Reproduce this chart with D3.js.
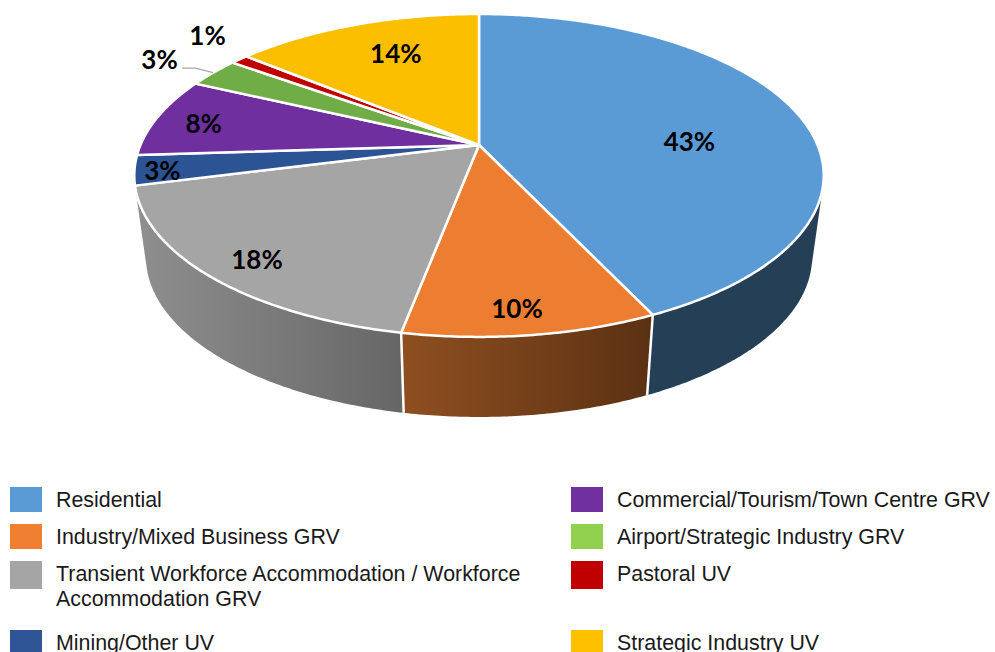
<!DOCTYPE html>
<html>
<head>
<meta charset="utf-8">
<script src="https://cdn.jsdelivr.net/npm/d3@7"></script>
<style>
  html, body { margin: 0; padding: 0; background: #fff; overflow: hidden; }
  .label { font-family: Lato, sans-serif; font-weight: 700; font-size: 26px; fill: #000; text-anchor: middle; }
  .legend { font-family: "Liberation Sans", Arial, sans-serif; font-size: 21.4px; fill: #1a1a1a; }
</style>
</head>
<body>
<div id="chart"></div>
<script>
const categories = ["Residential", "Industry/Mixed Business GRV", "Transient Workforce Accommodation / Workforce Accommodation GRV",
  "Mining/Other UV", "Commercial/Tourism/Town Centre GRV", "Airport/Strategic Industry GRV", "Pastoral UV", "Strategic Industry UV"];
const shares = [43, 10, 18, 3, 8, 3, 1, 14];
const topColors = ["#5b9bd5", "#ed7d31", "#a5a5a5", "#2c5494", "#6f2f9f", "#70ad47", "#c00000", "#fcbf00"];
const legendColors = ["#5b9bd5", "#f07f31", "#a5a5a5", "#2f5597", "#7030a0", "#92d050", "#c00000", "#ffc000"];
// wall shading, left and right end of each visible wall
const wallColors = [["#243f56", "#243f56"], ["#8f4f20", "#5b3113"], ["#8f8f8f", "#666666"]];

const width = 995, height = 652;

const svg = d3.select("#chart").append("svg")
    .attr("width", width)
    .attr("height", height);

// the pie is tilted, so points go through a perspective projection
const topRim = {cx: 479, cy: 145, a: 338.5, b: 155.7, k: 0.1887};
const lowRim = {cx: 479, cy: 226.6, a: 327, b: 154.2, k: 0.19};

function project(rim, angle, r) {
  const w = 1 + rim.k * r * Math.cos(angle);
  return [rim.cx + rim.a * r * Math.sin(angle) / w, rim.cy - rim.b * r * Math.cos(angle) / w];
}

function arcPoints(rim, a0, a1, r) {
  const steps = Math.max(2, Math.ceil((a1 - a0) / 0.01));
  return d3.range(steps + 1).map(i => project(rim, a0 + (a1 - a0) * i / steps, r));
}

const arcs = d3.pie().sort(null).value(d => d)(shares);
const path = d3.line();
const defs = svg.append("defs");

// front walls, only the part that can be seen
const wallStart = 60 * Math.PI / 180, wallEnd = 256 * Math.PI / 180;
arcs.forEach((d, i) => {
  const a0 = Math.max(d.startAngle, wallStart), a1 = Math.min(d.endAngle, wallEnd);
  if (a1 <= a0 || !wallColors[i]) return;
  // hull fills the tangent gap between the two rims, the top face hides the rest
  const pts = d3.polygonHull(arcPoints(topRim, a0, a1, 1).concat(arcPoints(lowRim, a0, a1, 1)));
  const xs = d3.extent(pts, p => p[0]);
  const grad = defs.append("linearGradient")
      .attr("id", "wall" + i)
      .attr("gradientUnits", "userSpaceOnUse")
      .attr("x1", xs[0]).attr("x2", xs[1]).attr("y1", 0).attr("y2", 0);
  grad.append("stop").attr("offset", 0).attr("stop-color", wallColors[i][0]);
  grad.append("stop").attr("offset", 1).attr("stop-color", wallColors[i][1]);
  svg.append("path")
      .attr("d", path(pts) + "Z")
      .attr("fill", "url(#wall" + i + ")")
      .attr("stroke", "none");
  // white seam at the end of the slice
  if (i < 2) {
    svg.append("line")
        .attr("x1", project(topRim, a1, 1)[0]).attr("y1", project(topRim, a1, 1)[1])
        .attr("x2", project(lowRim, a1, 1)[0]).attr("y2", project(lowRim, a1, 1)[1])
        .attr("stroke", "#fff").attr("stroke-width", 2.5)
        .attr("class", "seam");
  }
});
svg.selectAll(".seam").raise();

// top face
svg.selectAll(".slice")
  .data(arcs)
  .enter().append("path")
    .attr("class", "slice")
    .attr("d", d => path([[topRim.cx, topRim.cy]].concat(arcPoints(topRim, d.startAngle, d.endAngle, 1))) + "Z")
    .attr("fill", (d, i) => topColors[i])
    .attr("stroke", "#fff")
    .attr("stroke-width", 2.5)
    .attr("stroke-linejoin", "round");

// leader line for the 3% airport slice
const leaderEnd = project(topRim, (arcs[5].startAngle + arcs[5].endAngle) / 2, 1);
svg.append("path")
    .attr("d", path([leaderEnd, [leaderEnd[0] - 18, leaderEnd[1] - 4.5], [leaderEnd[0] - 31, leaderEnd[1] - 4.5]]))
    .attr("fill", "none")
    .attr("stroke", "#a6a6a6")
    .attr("stroke-width", 1.2);

// labels: radius along the slice middle, then a small nudge
const labelRadius = [0.654, 0.885, 0.85, 0.904, 0.853, 1.23, 1.15, 0.64];
const labelNudge = [[0, 19], [-7, 0], [1, 6], [-6, 3], [0, 3], [1, 2], [0, -12], [0, -10]];
svg.selectAll(".label")
  .data(arcs)
  .enter().append("text")
    .attr("class", "label")
    .attr("x", (d, i) => project(topRim, (d.startAngle + d.endAngle) / 2, labelRadius[i])[0] + labelNudge[i][0])
    .attr("y", (d, i) => project(topRim, (d.startAngle + d.endAngle) / 2, labelRadius[i])[1] + labelNudge[i][1])
    .attr("dy", "0.35em")
    .text(d => d.data + "%");

// legend, two columns
const legendCols = [10, 571];
const legendRows = [{y: 487, h: 25}, {y: 524, h: 25}, {y: 561, h: 28}, {y: 630, h: 25}];
const legendWrap = {2: ["Transient Workforce Accommodation / Workforce", "Accommodation GRV"]};

categories.forEach((name, i) => {
  const col = legendCols[Math.floor(i / 4)], row = legendRows[i % 4];
  svg.append("rect")
      .attr("x", col).attr("y", row.y)
      .attr("width", 32).attr("height", row.h)
      .attr("fill", legendColors[i]);
  const lines = legendWrap[i] || [name];
  svg.append("g").selectAll("text")
    .data(lines)
    .enter().append("text")
      .attr("class", "legend")
      .attr("x", col + 46)
      .attr("y", (d, j) => row.y + 20 + j * 25)
      .text(d => d);
});
</script>
</body>
</html>
